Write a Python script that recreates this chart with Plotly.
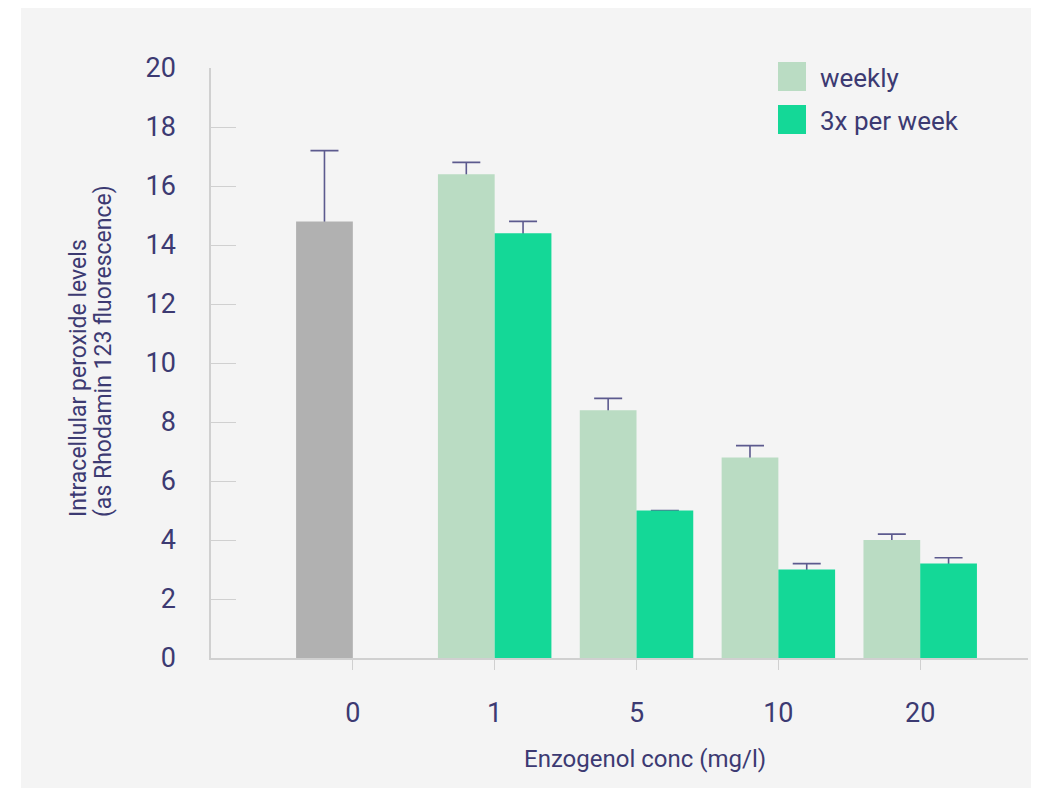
import plotly.graph_objects as go

# ---- data ----
categories = ["0", "1", "5", "10", "20"]
control_cat = ["0"]
control_val = [14.8]
control_err = [2.4]
weekly_cat = ["1", "5", "10", "20"]
weekly_val = [16.4, 8.4, 6.8, 4.0]
weekly_err = [0.4, 0.4, 0.4, 0.2]
thrice_cat = ["1", "5", "10", "20"]
thrice_val = [14.4, 5.0, 3.0, 3.2]
thrice_err = [0.4, 0.0, 0.2, 0.2]
legend_labels = ["weekly", "3x per week"]
y_title_lines = ["Intracellular peroxide levels", "(as Rhodamin 123 fluorescence)"]
x_title = "Enzogenol conc (mg/l)"

# ---- style ----
TEXT = "#3c3a72"
ERR = "#5c5a8e"
AXIS = "#d0d0d0"
C_CTRL = "#b1b1b1"
C_WEEK = "#badcc3"
C_3X = "#14d897"
FONT = "Roboto"

OFF = 8  # page body margin
W, H = 1031, 780
L, R, T, B = 203, 11, 60, 130
pw, ph = W - L - R, H - T - B


def px_x(p):  # page pixel -> paper coordinate
    return (p - OFF - L) / pw


def px_y(p):
    return (H - B - (p - OFF)) / ph


def err(arr):
    return dict(type="data", symmetric=True, array=arr,
                color=ERR, thickness=1.6, width=14)


fig = go.Figure()
# error bars first (drawn under the opaque bars so only the upper half shows)
for cats, vals, errs, off in [(control_cat, control_val, control_err, -0.4),
                              (weekly_cat, weekly_val, weekly_err, -0.4),
                              (thrice_cat, thrice_val, thrice_err, 0.0)]:
    fig.add_trace(go.Bar(x=cats, y=vals, error_y=err(errs),
                         marker=dict(color="rgba(0,0,0,0)", line_width=0),
                         width=0.4, offset=off, showlegend=False, hoverinfo="skip"))

fig.add_trace(go.Bar(x=control_cat, y=control_val,
                     marker=dict(color=C_CTRL, line_width=0), width=0.4, offset=-0.4,
                     showlegend=False))
fig.add_trace(go.Bar(x=weekly_cat, y=weekly_val,
                     marker=dict(color=C_WEEK, line_width=0), width=0.4, offset=-0.4,
                     name=legend_labels[0], showlegend=False))
fig.add_trace(go.Bar(x=thrice_cat, y=thrice_val,
                     marker=dict(color=C_3X, line_width=0), width=0.4, offset=0.0,
                     name=legend_labels[1], showlegend=False))

shapes = [
    dict(type="rect", xref="paper", yref="paper", layer="below",
         x0=px_x(21), x1=px_x(1060), y0=px_y(820), y1=px_y(0),
         fillcolor="#f4f4f4", line_width=0),
    dict(type="rect", xref="paper", yref="paper",
         x0=px_x(778), x1=px_x(806), y0=px_y(91), y1=px_y(62),
         fillcolor=C_WEEK, line_width=0),
    dict(type="rect", xref="paper", yref="paper",
         x0=px_x(778), x1=px_x(806), y0=px_y(134), y1=px_y(105),
         fillcolor=C_3X, line_width=0),
]

annotations = [
    dict(text=legend_labels[0], xref="paper", yref="paper", x=px_x(818), y=px_y(78),
         xanchor="left", yanchor="middle", showarrow=False, font=dict(size=26, color=TEXT)),
    dict(text=legend_labels[1], xref="paper", yref="paper", x=px_x(818), y=px_y(121),
         xanchor="left", yanchor="middle", showarrow=False, font=dict(size=26, color=TEXT)),
    dict(text=x_title, xref="paper", yref="paper", x=px_x(645), y=px_y(759),
         xanchor="center", yanchor="middle", showarrow=False, font=dict(size=24, color=TEXT)),
    dict(text=y_title_lines[0], xref="paper", yref="paper", x=px_x(78), y=px_y(519),
         xanchor="center", yanchor="bottom", showarrow=False, textangle=-90,
         font=dict(size=23, color=TEXT)),
    dict(text=y_title_lines[1], xref="paper", yref="paper", x=px_x(103), y=px_y(519),
         xanchor="center", yanchor="bottom", showarrow=False, textangle=-90,
         font=dict(size=23, color=TEXT)),
]

fig.update_layout(
    width=W, height=H,
    margin=dict(l=L, r=R, t=T, b=B),
    paper_bgcolor="white", plot_bgcolor="rgba(0,0,0,0)",
    barmode="overlay",
    font=dict(family=FONT, color=TEXT),
    shapes=shapes, annotations=annotations,
    xaxis=dict(type="category", categoryorder="array", categoryarray=categories,
               range=[-1, 4.76], showgrid=False, zeroline=False,
               showline=True, linecolor=AXIS, linewidth=1.5,
               ticks="outside", ticklen=10, tickcolor=AXIS, tickwidth=1,
               ticklabelstandoff=20,
               tickfont=dict(size=27, color=TEXT)),
    yaxis=dict(range=[0, 20], dtick=2, showgrid=False, zeroline=False,
               showline=True, linecolor=AXIS, linewidth=1.5,
               ticks="inside", ticklen=25, tickcolor=AXIS, tickwidth=1,
               ticklabelstandoff=28,
               tickfont=dict(size=27, color=TEXT)),
)

fig.write_html("out.html")
